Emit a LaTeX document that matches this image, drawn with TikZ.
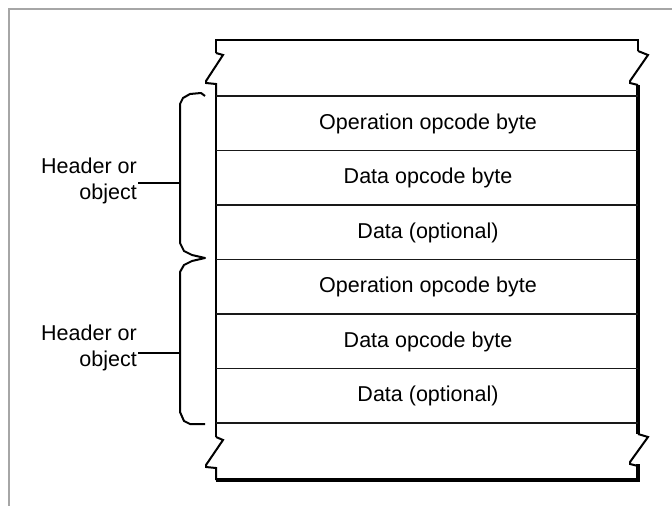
\documentclass[tikz,border=0pt]{standalone}
\usepackage{fontspec}
\setmainfont{Liberation Sans}
\begin{document}
\begin{tikzpicture}[x=1pt,y=-1pt,
  edge/.style={line width=2pt, line join=miter},
  heavy/.style={line width=3.6pt},
  divider/.style={line width=1.8pt, black!90},
  frameline/.style={line width=2pt, black!35},
  rowtext/.style={font=\fontsize{21.5}{25}\selectfont, inner sep=0pt},
  sidelabel/.style={font=\fontsize{21.5}{26}\selectfont, align=right, inner sep=0pt, anchor=east},
  bracepath/.style={line width=2pt, line join=round}]
\useasboundingbox (0,0) rectangle (672,506);

% outer frame (top and left only)
\draw[frameline] (9,506) -- (9,9) -- (672,9);

% horizontal levels of the stack
\def\xl{216}\def\xr{638}
\coordinate (tl) at (\xl,40);
\coordinate (tr) at (\xr,40);
\coordinate (bl) at (\xl,480);
\coordinate (br) at (\xr,480);

% top edge and break marks
\draw[edge] (\xl,53) -- (tl) -- (tr) -- (\xr,51);
\draw[edge] (\xl,53) -- (223,55) -- (206,81) -- (206,83) -- (\xl,84) -- (\xl,96);
\draw[edge] (\xr,51) -- (648,55) -- (630,81) -- (630,83) -- (\xr,85);
% left side
\draw[edge] (\xl,84) -- (\xl,437);
\draw[edge] (\xl,437) -- (223,440) -- (206,465) -- (206,467) -- (\xl,468) -- (bl);
% right side (heavier)
\draw[heavy] (\xr,85) -- (\xr,434);
\draw[edge] (\xr,434) -- (648,437) -- (630,462) -- (630,464) -- (\xr,466);
\draw[heavy] (\xr,464) -- (br) -- (bl);

% row dividers
\foreach \y in {96,150.5,205,259.5,314,368.5,423}
  \draw[divider] (\xl,\y) -- (\xr,\y);

% row texts
\node[rowtext] (op1)   at (428,123.5) {Operation opcode byte};
\node[rowtext] (dop1)  at (428,178)   {Data opcode byte};
\node[rowtext] (data1) at (428,232.5) {Data (optional)};
\node[rowtext] (op2)   at (428,287)   {Operation opcode byte};
\node[rowtext] (dop2)  at (428,341.5) {Data opcode byte};
\node[rowtext] (data2) at (428,396)   {Data (optional)};

% braces grouping each header
\draw[bracepath] (205,96) -- (201,93) -- (190,94) -- (183,98) -- (180,104)
  -- (180,243) -- (184,251) -- (192,255) -- (205,258)
  -- (192,261) -- (184,265) -- (180,272)
  -- (180,412) -- (184,421) -- (190,424) -- (205,424);
\coordinate (b1) at (180,183);
\coordinate (b2) at (180,353);

% labels
\node[sidelabel] (h1) at (137,181) {Header or\\object};
\node[sidelabel] (h2) at (137,348) {Header or\\object};
\draw[edge] (h1.east |- b1) ++(1,0) -- (b1);
\draw[edge] (h2.east |- b2) ++(1,0) -- (b2);
\end{tikzpicture}
\end{document}
